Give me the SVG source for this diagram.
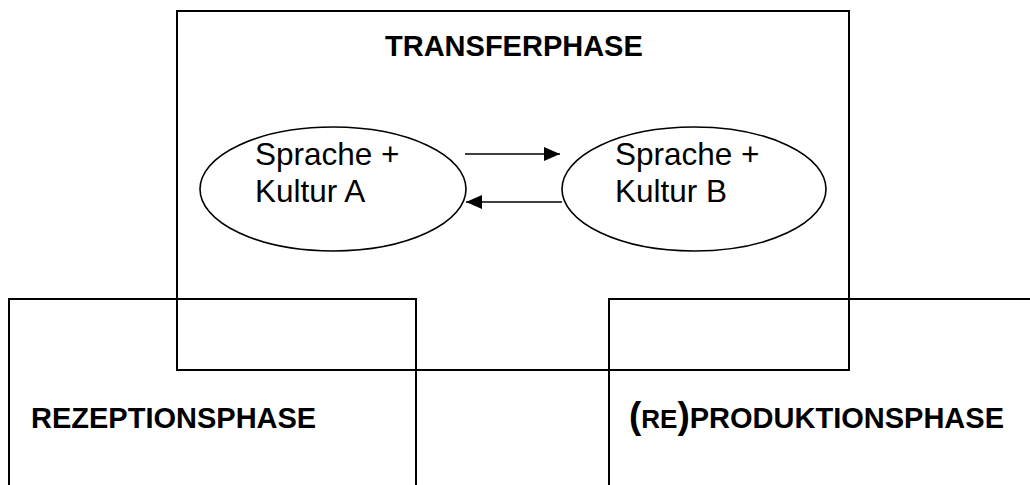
<svg xmlns="http://www.w3.org/2000/svg" width="1030" height="485" viewBox="0 0 1030 485">
<style>
.box{fill:none;stroke:#000;stroke-width:2}
.ell{fill:#fff;stroke:#000;stroke-width:1.6}
.h{font-family:"Liberation Sans",Arial,sans-serif;font-weight:bold;font-size:29px;fill:#000}
.t{font-family:"Liberation Sans",Arial,sans-serif;font-size:31.5px;fill:#000}
.c{stroke:#000;stroke-width:1.6;fill:none}
</style>
<defs>
<marker id="ah" markerUnits="userSpaceOnUse" markerWidth="16" markerHeight="14" refX="16" refY="7" orient="auto">
<path d="M0,0 L16,7 L0,14 Z" fill="#000"/>
</marker>
</defs>
<rect width="1030" height="485" fill="#fff"/>
<g id="rezeption">
<path class="box" d="M9,485 V299 H416 V485"/>
<text class="h" x="31" y="428">REZEPTIONSPHASE</text>
</g>
<g id="reproduktion">
<path class="box" d="M609,485 V299 H1030"/>
<text class="h" x="629" y="428"><tspan font-size="37px">(</tspan><tspan font-size="26px">RE</tspan><tspan font-size="37px">)</tspan>PRODUKTIONSPHASE</text>
</g>
<g id="transfer">
<rect class="box" x="177" y="11" width="672" height="359"/>
<text class="h" x="385" y="56">TRANSFERPHASE</text>
</g>
<g id="kulturA">
<ellipse class="ell" cx="333" cy="189" rx="133" ry="62"/>
<text class="t" x="255" y="165">Sprache +</text>
<text class="t" x="255" y="202">Kultur A</text>
</g>
<g id="kulturB">
<ellipse class="ell" cx="694" cy="189" rx="132" ry="62"/>
<text class="t" x="615" y="165">Sprache +</text>
<text class="t" x="615" y="202">Kultur B</text>
</g>
<g id="connectors">
<line class="c" x1="465" y1="154" x2="560" y2="154" marker-end="url(#ah)"/>
<line class="c" x1="562" y1="202" x2="466" y2="202" marker-end="url(#ah)"/>
</g>
</svg>
